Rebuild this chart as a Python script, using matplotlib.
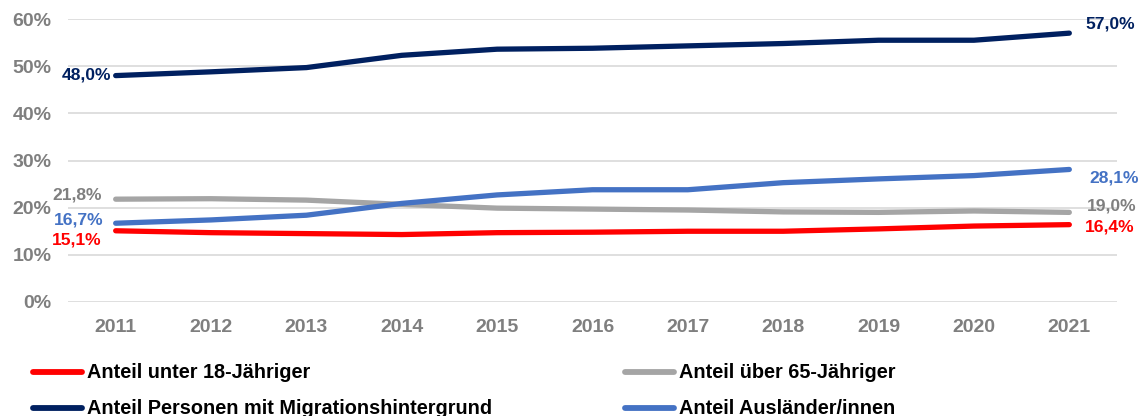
import matplotlib
matplotlib.use("Agg")
import matplotlib.pyplot as plt
from matplotlib.lines import Line2D

plt.rcParams['font.family'] = ['Liberation Sans', 'DejaVu Sans']

years = ["2011", "2012", "2013", "2014", "2015", "2016", "2017", "2018", "2019", "2020", "2021"]
unter18 = [15.1, 14.7, 14.5, 14.3, 14.7, 14.8, 15.0, 15.0, 15.5, 16.1, 16.4]
ueber65 = [21.8, 21.9, 21.6, 20.7, 19.9, 19.7, 19.5, 19.1, 19.0, 19.3, 19.0]
migration = [48.0, 48.8, 49.7, 52.3, 53.6, 53.8, 54.3, 54.8, 55.5, 55.5, 57.0]
auslaender = [16.7, 17.4, 18.4, 20.9, 22.7, 23.8, 23.8, 25.3, 26.1, 26.8, 28.1]
yticks = [0, 10, 20, 30, 40, 50, 60]
labels = ["Anteil unter 18-Jähriger", "Anteil über 65-Jähriger",
          "Anteil Personen mit Migrationshintergrund", "Anteil Ausländer/innen"]

c_red, c_gray, c_navy, c_blue = "#FF0000", "#A5A5A5", "#002060", "#4472C4"
tick_col = "#7F7F7F"

fig = plt.figure(figsize=(11.4, 4.16), dpi=100)
ax = fig.add_axes([68/1140, 1-302/416, (1117-68)/1140, (302-19)/416])

x = list(range(len(years)))
lw = 3.8
ax.plot(x, ueber65, color=c_gray, lw=lw, solid_capstyle='round', solid_joinstyle='round', zorder=3)
ax.plot(x, auslaender, color=c_blue, lw=lw, solid_capstyle='round', solid_joinstyle='round', zorder=4)
ax.plot(x, unter18, color=c_red, lw=lw, solid_capstyle='round', solid_joinstyle='round', zorder=5)
ax.plot(x, migration, color=c_navy, lw=lw, solid_capstyle='round', solid_joinstyle='round', zorder=6)

ax.set_xlim(-0.5, len(years) - 0.5)
ax.set_ylim(0, 60)
ax.set_yticks(yticks)
ax.set_yticklabels([f"{v}%" for v in yticks])
ax.set_xticks(x)
ax.set_xticklabels(years)
ax.tick_params(axis='both', length=0, labelsize=14, labelcolor=tick_col)
ax.tick_params(axis='y', pad=12)
ax.tick_params(axis='x', pad=12)
for lab in ax.get_xticklabels() + ax.get_yticklabels():
    lab.set_fontweight('bold')
ax.grid(axis='y', color="#D9D9D9", lw=1.2, zorder=0)
ax.set_axisbelow(True)
for s in ax.spines.values():
    s.set_visible(False)

def fmt(v):
    return f"{v:.1f}%".replace(".", ",")

kw = dict(fontsize=12.6, fontweight='bold', va='center', annotation_clip=False)
# start labels
ax.annotate(fmt(migration[0]), (x[0], migration[0]), xytext=(-4, 1), textcoords='offset pixels', ha='right', color=c_navy, **kw)
ax.annotate(fmt(ueber65[0]), (x[0], ueber65[0]), xytext=(-14, 4), textcoords='offset pixels', ha='right', color=tick_col, **kw)
ax.annotate(fmt(auslaender[0]), (x[0], auslaender[0]), xytext=(-12, 3), textcoords='offset pixels', ha='right', color=c_blue, **kw)
ax.annotate(fmt(unter18[0]), (x[0], unter18[0]), xytext=(-14, -9), textcoords='offset pixels', ha='right', color=c_red, **kw)
# end labels
ax.annotate(fmt(migration[-1]), (x[-1], migration[-1]), xytext=(16, 9), textcoords='offset pixels', ha='left', color=c_navy, **kw)
ax.annotate(fmt(auslaender[-1]), (x[-1], auslaender[-1]), xytext=(20, -9), textcoords='offset pixels', ha='left', color=c_blue, **kw)
ax.annotate(fmt(ueber65[-1]), (x[-1], ueber65[-1]), xytext=(18, 6), textcoords='offset pixels', ha='left', color=tick_col, **kw)
ax.annotate(fmt(unter18[-1]), (x[-1], unter18[-1]), xytext=(16, -2), textcoords='offset pixels', ha='left', color=c_red, **kw)

# legend (manual, two columns)
entries = [(labels[0], c_red, 33, 372), (labels[2], c_navy, 33, 408),
           (labels[1], c_gray, 625, 372), (labels[3], c_blue, 625, 408)]
for text, col, xl, yl in entries:
    fy = 1 - yl/416
    fig.add_artist(Line2D([xl/1140, (xl+49)/1140], [fy, fy], color=col, lw=4.2,
                          solid_capstyle='round', transform=fig.transFigure))
    fig.text((xl+54)/1140, fy, text, fontsize=14.3, fontweight='bold', color='black',
             va='center', ha='left')

fig.savefig("out.png", dpi=100)
